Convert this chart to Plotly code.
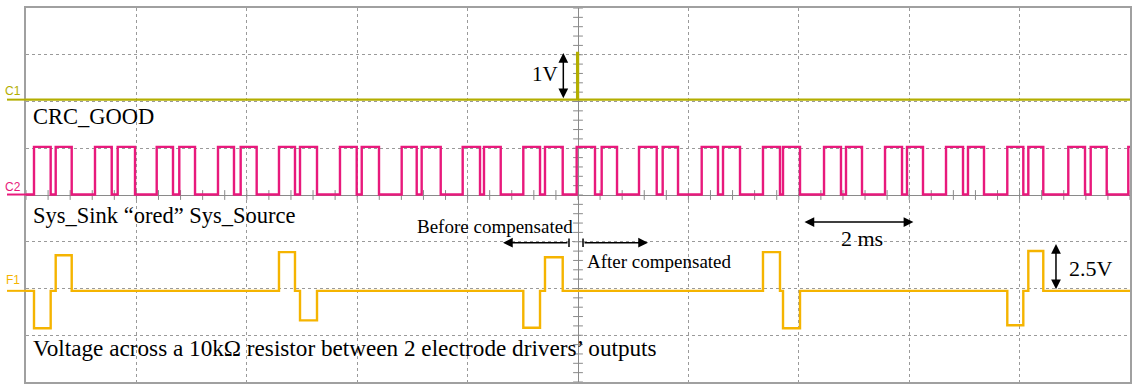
import numpy as np
import plotly.graph_objects as go

# Time base: 2 ms/div, 10 divisions, trigger at the centre of the screen
T_MIN, T_MAX = -10.0, 10.0
Y_MIN, Y_MAX = -4.0, 4.0          # vertical graticule in divisions

# ---- C1 : CRC_GOOD (1 V/div) ----
c1_t = [-10.0, -0.015, 0.0, 10.0]
c1_v = [0.0, 1.0, 0.0, 0.0]
C1_SCALE, C1_OFFSET = 1.0, 2.04

# ---- C2 : Sys_Sink "ored" Sys_Source, edge times in ms (trace starts low) ----
c2_edges = [
    -9.855, -9.553, -9.462, -9.172,
    -8.750, -8.447, -8.339, -8.025,
    -7.632, -7.337, -7.223, -6.938,
    -6.522, -6.232, -6.111, -5.821,
    -5.417, -5.127, -5.036, -4.728,
    -4.312, -4.009, -3.918, -3.605,
    -3.194, -2.922, -2.832, -2.487,
    -2.089, -1.775, -1.703, -1.400,
    -0.991, -0.688, -0.598, -0.277,
    -0.024, 0.308, 0.429, 0.707,
    1.105, 1.426, 1.534, 1.812,
    2.241, 2.536, 2.627, 2.935,
    3.351, 3.659, 3.714, 4.022,
    4.457, 4.764, 4.855, 5.145,
    5.562, 5.870, 5.960, 6.250,
    6.667, 6.975, 7.065, 7.355,
    7.777, 8.067, 8.158, 8.429,
    8.882, 9.185, 9.288, 9.578,
    9.969,
]
c2_levels = [0.0, 5.1]            # low / high in V
C2_SCALE, C2_OFFSET = 5.0, 0.01

# ---- F1 : voltage across the 10 kOhm resistor (2.5 V/div) ----
f1_t = [-10.0,
        -9.855, -9.553, -9.462, -9.172,
        -5.417, -5.127, -5.036, -4.728,
        -0.991, -0.688, -0.598, -0.277,
        3.351, 3.659, 3.714, 4.022,
        7.777, 8.067, 8.158, 8.429,
        10.0]
f1_v = [0.0,
        -2.00, 0.0, 1.90, 0.0,
        2.07, 0.0, -1.58, 0.0,
        -1.97, 0.0, 1.80, 0.0,
        2.07, 0.0, -2.00, 0.0,
        -1.84, 0.0, 2.13, 0.0,
        0.0]
F1_SCALE, F1_OFFSET = 2.5, -2.05

C1_COLOR = "#b3ae00"
C2_COLOR = "#e8197c"
F1_COLOR = "#f5b400"
GRID = "#9a9a9a"
AXIS = "#8a8a8a"
TRACE_W = 2.4

# build C2 step trace from its edges
c2_x = [T_MIN] + c2_edges + [T_MAX]
c2_y = []
lvl = 0
for _ in range(len(c2_edges) + 1):
    c2_y.append(c2_levels[lvl])
    lvl ^= 1
c2_y.append(c2_y[-1])


def to_div(values, scale, offset):
    return [v / scale + offset for v in values]


fig = go.Figure()

# centre-axis minor ticks of the graticule
hx = np.arange(T_MIN, T_MAX + 1e-9, 0.4)
vy = np.arange(Y_MIN, Y_MAX + 1e-9, 0.2)
fig.add_trace(go.Scatter(x=hx, y=np.zeros_like(hx), mode="markers", hoverinfo="skip",
                         marker=dict(symbol="line-ns", size=7,
                                     line=dict(color=AXIS, width=1))))
fig.add_trace(go.Scatter(x=np.zeros_like(vy), y=vy, mode="markers", hoverinfo="skip",
                         marker=dict(symbol="line-ew", size=7,
                                     line=dict(color=AXIS, width=1))))

fig.add_trace(go.Scatter(x=c1_t, y=to_div(c1_v, C1_SCALE, C1_OFFSET), mode="lines",
                         line=dict(color=C1_COLOR, width=TRACE_W, shape="hv"), name="C1"))
fig.add_trace(go.Scatter(x=c2_x, y=to_div(c2_y, C2_SCALE, C2_OFFSET), mode="lines",
                         line=dict(color=C2_COLOR, width=TRACE_W, shape="hv"), name="C2"))
fig.add_trace(go.Scatter(x=f1_t, y=to_div(f1_v, F1_SCALE, F1_OFFSET), mode="lines",
                         line=dict(color=F1_COLOR, width=TRACE_W, shape="hv"), name="F1"))

SERIF = "Liberation Serif, Times New Roman, serif"
SANS = "Liberation Sans, Arial, sans-serif"
ann = []


def label(text, x, y, size=22.5):
    ann.append(dict(text=text, x=x, y=y, xref="x", yref="y", xanchor="left",
                    yanchor="middle", showarrow=False,
                    font=dict(family=SERIF, size=size, color="black")))


def arrow(x0, y0, x1, y1, both=True):
    ann.append(dict(text="", x=x1, y=y1, ax=x0, ay=y0, xref="x", yref="y",
                    axref="x", ayref="y", showarrow=True, arrowhead=2,
                    startarrowhead=2, arrowsize=1.3, startarrowsize=1.3,
                    arrowwidth=1.5, arrowcolor="black",
                    arrowside="end+start" if both else "end"))


label("CRC_GOOD", -9.91, 1.67)
label("Sys_Sink \u201cored\u201d Sys_Source", -9.91, -0.43)
label("Voltage across a 10k\u03a9 resistor between 2 electrode drivers\u2019 outputs", -9.91, -3.27, 23.2)
label("Before compensated", -2.953, -0.663, 19)
label("After compensated", 0.127, -1.412, 19)
label("1V", -0.87, 2.595, 21)
label("2 ms", 4.728, -0.92, 22)
label("2.5V", 8.853, -1.568, 22)

arrow(-0.266, C1_OFFSET, -0.266, C1_OFFSET + 1.0 / C1_SCALE)
arrow(-0.163, -1.02, -1.359, -1.02, both=False)
arrow(0.091, -1.02, 1.268, -1.02, both=False)
arrow(4.076, -0.578, 4.076 + 2.0, -0.578)
arrow(8.659, F1_OFFSET, 8.659, F1_OFFSET + 2.5 / F1_SCALE)

shapes = []
for bx in (-0.163, 0.091):
    shapes.append(dict(type="line", xref="x", yref="y", x0=bx, x1=bx,
                       y0=-1.02 - 0.09, y1=-1.02 + 0.09,
                       line=dict(color="black", width=1.5)))

# channel markers on the left edge
for name, off, col, ly in (("C1", C1_OFFSET, C1_COLOR, C1_OFFSET + 0.18),
                           ("C2", C2_OFFSET, C2_COLOR, C2_OFFSET + 0.17),
                           ("F1", F1_OFFSET, F1_COLOR, F1_OFFSET + 0.24)):
    shapes.append(dict(type="line", xref="paper", yref="y", x0=-19 / 1104, x1=0,
                       y0=off, y1=off, line=dict(color=col, width=2)))
    ann.append(dict(text=name, xref="paper", yref="y", x=-13 / 1104, y=ly,
                    xanchor="center", yanchor="middle", showarrow=False,
                    font=dict(family=SANS, size=12, color=col)))

fig.update_layout(
    width=1134, height=385,
    margin=dict(l=26, r=4, t=8, b=3),
    paper_bgcolor="white", plot_bgcolor="white",
    showlegend=False,
    annotations=ann, shapes=shapes,
    xaxis=dict(range=[T_MIN, T_MAX], dtick=2, showticklabels=False, ticks="",
               showgrid=True, gridcolor=GRID, gridwidth=1, griddash="dot",
               zeroline=True, zerolinecolor=AXIS, zerolinewidth=1,
               showline=True, mirror=True, linecolor="#a0a0a0", linewidth=1.5,
               fixedrange=True),
    yaxis=dict(range=[Y_MIN, Y_MAX], dtick=1, showticklabels=False, ticks="",
               showgrid=True, gridcolor=GRID, gridwidth=1, griddash="dot",
               zeroline=True, zerolinecolor=AXIS, zerolinewidth=1,
               showline=True, mirror=True, linecolor="#a0a0a0", linewidth=1.5,
               fixedrange=True),
)

fig.write_html("out.html")
